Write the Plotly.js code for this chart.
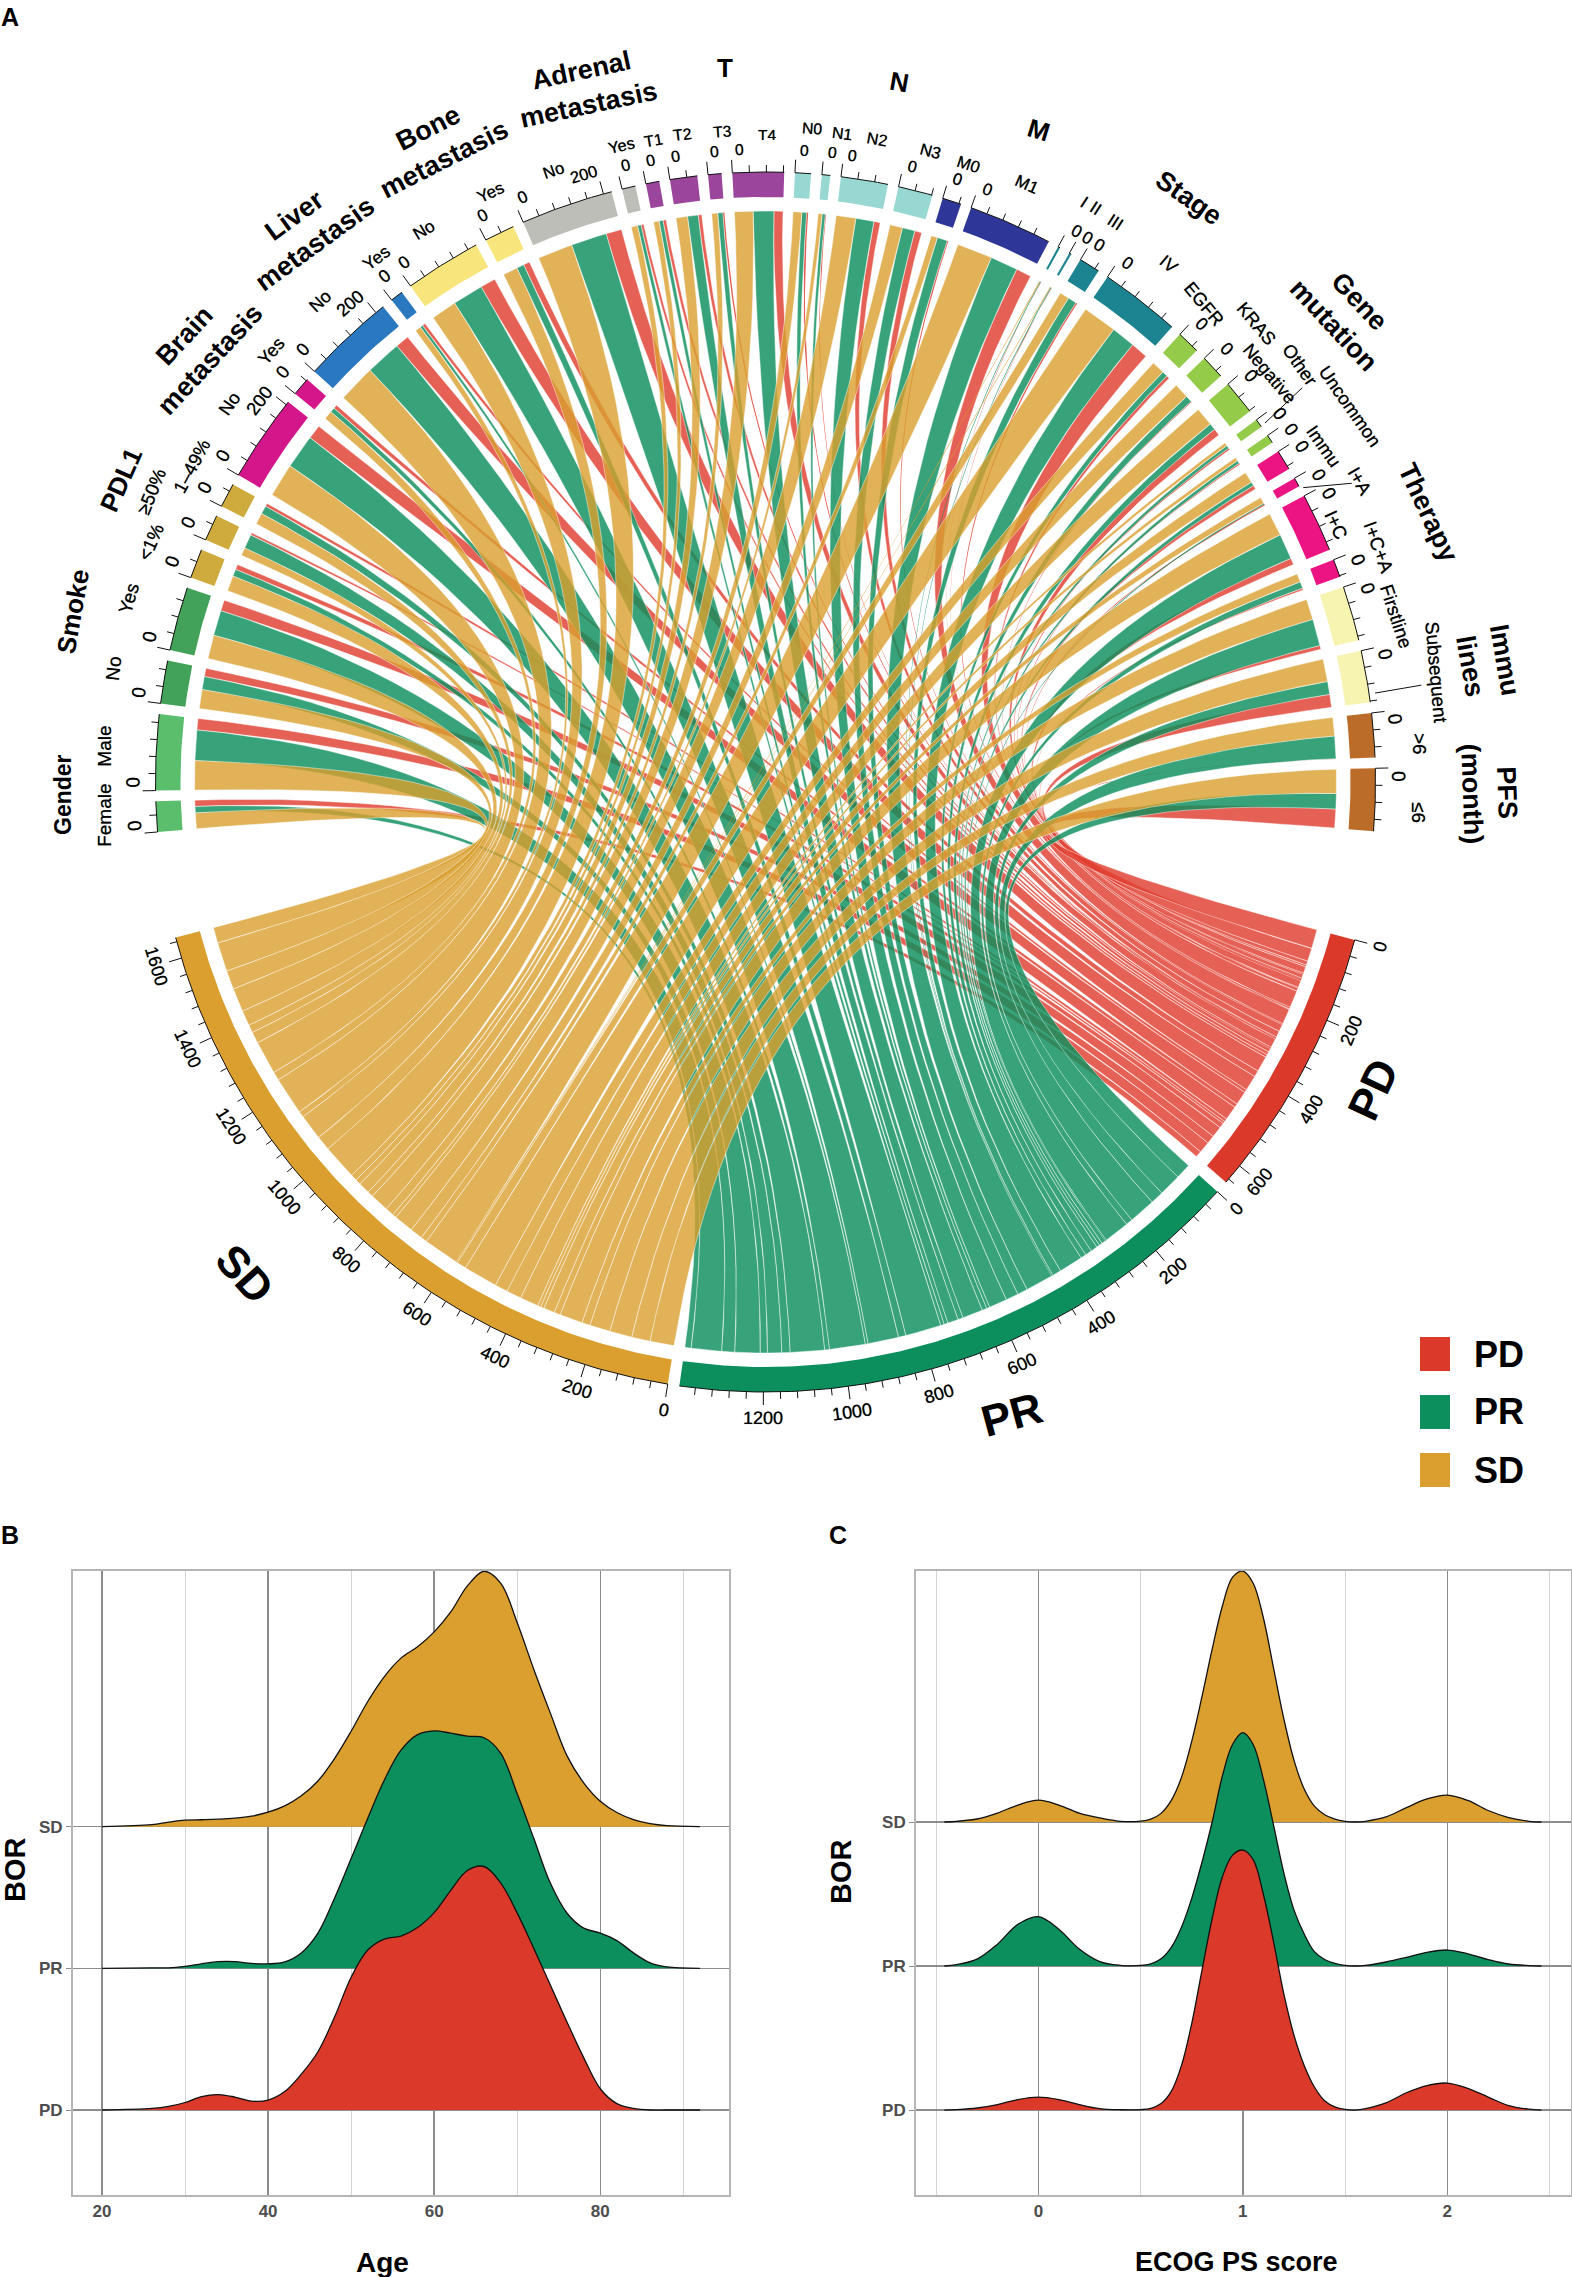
<!DOCTYPE html>
<html>
<head>
<meta charset="utf-8">
<script src="https://cdn.plot.ly/plotly-3.0.1.min.js"></script>
<style>html,body{margin:0;padding:0;background:#fff}</style>
</head>
<body>
<div id="chart" style="width:1572px;height:2277px"></div>
<script>
// sectors of the chord diagram, clockwise from Gender
var sectorNames = ['Female','Male','No','Yes','<1%','≥50%','1–49%','No','Yes','No','Yes','No','Yes','No','Yes',
    'T1','T2','T3','T4','N0','N1','N2','N3','M0','M1','I','II','III','IV',
    'EGFR','KRAS','Negative','Other','Uncommon','Immu','I+A','I+C','I+C+A','Firstline','Subsequent','>6','≤6'];
var sectorGroups = ['Gender','Gender','Smoke','Smoke','PDL1','PDL1','PDL1','Brain','Brain','Liver','Liver','Bone','Bone','Adrenal','Adrenal',
    'T','T','T','T','N','N','N','N','M','M','Stage','Stage','Stage','Stage',
    'Gene','Gene','Gene','Gene','Gene','Therapy','Therapy','Therapy','Therapy','Lines','Lines','PFS','PFS'];
var flowSD = [40,74,48,60,39,20,29,85,22,96,15,65,37,89,16,14,29,15,47,22,10,50,32,16,90,2,2,24,87,33,38,47,8,9,28,16,58,21,52,57,47,61];
var flowPR = [16,77,33,64,18,36,21,87,12,91,7,78,19,91,9,10,27,13,52,12,8,46,32,26,70,2,2,22,61,14,17,17,8,8,10,3,65,17,68,33,57,39];
var flowPD = [16,29,21,28,13,6,8,36,10,35,8,39,16,40,7,8,9,4,23,4,2,16,18,3,39,1,1,4,44,8,2,18,4,3,10,3,17,5,10,33,1,48];

var borNames = ['PD','PR','SD'];
var borFlows = [flowPD, flowPR, flowSD];

// ridgelines, heights in rows of the y axis
var ageGrid = [20,26,28,30,32,34,36,38,40,42,44,46,48,50,52,54,56,58,60,62,64,66,68,70,72,74,76,78,80,82,84,86,88,92];
var ageSD = [0,.014,.032,.046,.049,.053,.06,.074,.102,.147,.218,.323,.481,.674,.884,1.06,1.19,1.27,1.375,1.516,1.7,1.803,1.72,1.44,1.11,.8,.5,.31,.18,.1,.05,.021,.007,0];
var agePR = [0,.004,.004,.014,.032,.047,.047,.035,.032,.046,.109,.249,.495,.775,1.06,1.33,1.54,1.65,1.677,1.66,1.639,1.628,1.52,1.232,.916,.6,.389,.284,.249,.196,.109,.039,.011,0];
var agePD = [0,.011,.025,.053,.095,.109,.091,.063,.07,.13,.253,.411,.656,.937,1.13,1.207,1.228,1.288,1.393,1.551,1.691,1.719,1.604,1.39,1.14,.88,.62,.37,.15,.045,.011,0,0,0];

var ecogGrid = [-.46,-.4,-.3,-.2,-.1,0,.1,.2,.3,.4,.5,.55,.6,.65,.7,.75,.8,.85,.9,.95,1,1.05,1.1,1.15,1.2,1.25,1.3,1.35,1.4,1.45,1.5,1.55,1.6,1.7,1.8,1.9,2,2.1,2.2,2.3,2.4,2.46];
var ecogSD = [0,.005,.021,.062,.118,.152,.118,.062,.028,.005,.006,.02,.06,.15,.31,.56,.87,1.2,1.5,1.7,1.742,1.66,1.42,1.07,.72,.43,.229,.11,.05,.02,.005,0,.005,.035,.1,.16,.187,.15,.08,.031,.005,0];
var ecogPR = [0,.01,.048,.152,.29,.343,.256,.118,.031,.005,.004,.015,.05,.13,.27,.47,.72,1,1.32,1.54,1.621,1.54,1.3,.98,.65,.39,.222,.1,.045,.018,.004,0,.004,.028,.06,.095,.111,.085,.045,.014,.003,0];
var ecogPD = [0,.003,.014,.038,.073,.09,.073,.038,.01,.002,.003,.012,.045,.13,.31,.6,.97,1.33,1.62,1.77,1.805,1.74,1.5,1.17,.81,.52,.31,.16,.065,.022,.004,0,.01,.05,.12,.17,.187,.15,.09,.031,.006,0];

// styles
var W = 1572, H = 2277, CX = 765.5, CY = 782;
var R_OUT = 610, R_IN = 585, R_LINK = 571, DEG = 0.04;
var FONT = 'Liberation Sans';
var borColor = {PD:'#DB3A2B', PR:'#0C8F5D', SD:'#DA9F2E'};
var linkColor = {PD:'rgba(224,62,48,.82)', PR:'rgba(12,143,93,.82)', SD:'rgba(218,159,46,.8)'};
var groupColor = {Gender:'#5BBE6C', Smoke:'#43A25A', PDL1:'#CFAA3C', Brain:'#D4168B', Liver:'#2A78C0', Bone:'#F8E57C', Adrenal:'#BEBEB8',
    T:'#9B469C', N:'#97D9D2', M:'#2E3798', Stage:'#1C8490', Gene:'#94CB49', Therapy:'#EC1483', Lines:'#F7F3B0', PFS:'#BC6C29'};

// where the sector names sit: angle clockwise from straight down, and radius
var nameAngle = [87.1,93.1,99.9,106.1,111.3,115.3,118.8,125.2,131.1,137.2,143.4,148.2,155,160.9,167.3,170.1,172.7,176.2,180.1,184.1,186.7,189.9,194.7,198.2,203.6,
    208.8,209.9,212,217.9,222.5,227,231,232,237.3,239,243.2,245.8,249.1,255.3,260.7,266.7,272.7];
var nameRadius = [662,662,662,663,660,679,655,656,655,655,653,649,650,647,653,652,653,652,648,655,653,653,652,650,652,
    662,662,660,656,649,671,649,678,695,652,666,626,656,652,680,655,653];
var nameAngleText = [-90,-90,-84,-74,-66,-68,-62,-55,-49,-43,-37,-31,-25,-19,-13,-10,-7,-4,0,4,7,10,15,18,24,
    33,33,33,40,50,50,50,55,55,55,60,65,70,72,85,90,90];

var groupLabels = [
    {t:'Gender', x:63, y:794, a:-90, s:23},
    {t:'Smoke', x:73, y:612, a:-80, s:26},
    {t:'PDL1', x:121, y:480, a:-66, s:26},
    {t:'Brain<br>metastasis', x:197, y:347, a:-47, s:27},
    {t:'Liver<br>metastasis', x:305, y:230, a:-36, s:27},
    {t:'Bone<br>metastasis', x:436, y:143, a:-27, s:27},
    {t:'Adrenal<br>metastasis', x:585, y:87, a:-12, s:27},
    {t:'T', x:725, y:68, a:0, s:26},
    {t:'N', x:900, y:82, a:10, s:26},
    {t:'M', x:1039, y:130, a:17, s:26},
    {t:'Stage', x:1189, y:198, a:35, s:27},
    {t:'Gene<br>mutation', x:1347, y:313, a:47, s:27},
    {t:'Therapy', x:1428, y:512, a:65, s:27},
    {t:'Immu<br>lines', x:1488, y:663, a:80, s:27},
    {t:'PFS<br>(month)', x:1490, y:793, a:88, s:27}
];
var borLabels = [{t:'PD', x:1373, y:1090, a:-65}, {t:'PR', x:1011, y:1414, a:-15}, {t:'SD', x:245, y:1273, a:48}];
var leaders = [[234.3,615,233.7,666],[241.3,613,243,658],[261.7,616,261.6,663]];

function pol(deg, r){
    var a = deg * Math.PI / 180;
    return [-r * Math.sin(a), -r * Math.cos(a)];
}

function arcPts(a0, a1, r, xs, ys){
    var n = Math.max(2, Math.ceil(Math.abs(a1 - a0) / 0.5) + 1);
    for(var i = 0; i < n; i++){
        var p = pol(a0 + (a1 - a0) * i / (n - 1), r);
        xs.push(p[0]); ys.push(p[1]);
    }
}

function bezierPts(a0, a1, r, xs, ys){
    var p0 = pol(a0, r), p2 = pol(a1, r);
    for(var i = 1; i < 40; i++){
        var t = i / 40;
        xs.push((1 - t) * (1 - t) * p0[0] + t * t * p2[0]);
        ys.push((1 - t) * (1 - t) * p0[1] + t * t * p2[1]);
    }
}

var sum = function(v){ return v.reduce(function(a, b){ return a + b; }, 0); };

// layout of the ring
var sectorVal = sectorNames.map(function(n, i){ return flowSD[i] + flowPR[i] + flowPD[i]; });
var sectorStart = [], ang = 85.3;
sectorVal.forEach(function(v){ sectorStart.push(ang); ang += v * DEG + 1.01; });
var borVal = borFlows.map(sum);
var borStart = [285, 285 + borVal[0] * DEG + 1.2];
borStart.push(borStart[1] + borVal[1] * DEG + 1.1);

var traces = [], annos = [];

function chordText(txt, deg, r, rot, size){
    var p = pol(deg, r);
    annos.push({text:txt, x:p[0], y:p[1], xref:'x', yref:'y', xanchor:'center', yanchor:'middle', showarrow:false, textangle:rot,
        font:{family:FONT, size:size, color:'#000', shadow:'0 0 0.7px rgba(0,0,0,.7)'}});
}

function pageText(txt, x, y, rot, size){
    annos.push({text:txt, x:x / W, y:1 - y / H, xref:'paper', yref:'paper', xanchor:'center', yanchor:'middle', showarrow:false, textangle:rot,
        font:{family:FONT, size:size, color:'#000', weight:'bold'}});
}

// the picture is a bit taller than wide, so upright text runs longer
function ringSize(base, rot){
    return base + 3.5 * Math.abs(Math.sin(rot * Math.PI / 180));
}

// links: red first, gold last so gold sits on top
[0, 1, 2].forEach(function(b){
    var pos = borStart[b];
    var lanes = [];
    for(var s = sectorNames.length - 1; s >= 0; s--){
        lanes[s] = pos;
        pos += borFlows[b][s] * DEG;
    }
    sectorNames.forEach(function(n, s){
        // inside a sector the order is SD, PR, PD going clockwise
        var off = 0;
        if(b == 1) off = flowSD[s];
        if(b == 0) off = flowSD[s] + flowPR[s];
        var w = borFlows[b][s] * DEG;
        var a0 = sectorStart[s] + off * DEG, a1 = a0 + w;
        var b0 = lanes[s], b1 = b0 + w;
        var xs = [], ys = [];
        arcPts(a0, a1, R_LINK, xs, ys);
        bezierPts(a1, b0, R_LINK, xs, ys);
        arcPts(b0, b1, R_LINK, xs, ys);
        bezierPts(b1, a0, R_LINK, xs, ys);
        xs.push(xs[0]); ys.push(ys[0]);
        traces.push({type:'scatter', mode:'lines', x:xs, y:ys, fill:'toself', fillcolor:linkColor[borNames[b]],
            line:{color:'rgba(255,255,255,.75)', width:borFlows[b][s] < 5 ? 0 : 0.6}, hoverinfo:'skip', showlegend:false, xaxis:'x', yaxis:'y'});
    });
});

// ring sectors and ticks
var tickX = [], tickY = [];

function drawSector(start, value, color){
    var xs = [], ys = [], end = start + value * DEG;
    arcPts(start, end, R_OUT, xs, ys);
    arcPts(end, start, R_IN, xs, ys);
    xs.push(xs[0]); ys.push(ys[0]);
    traces.push({type:'scatter', mode:'lines', x:xs, y:ys, fill:'toself', fillcolor:color, line:{width:0},
        hoverinfo:'skip', showlegend:false, xaxis:'x', yaxis:'y'});
    arcPts(start, end, R_OUT, tickX, tickY);
    tickX.push(null); tickY.push(null);
    for(var v = 0; v <= value; v += 40){
        var a = start + v * DEG;
        var p0 = pol(a, R_OUT), p1 = pol(a, R_OUT + (v % 200 == 0 ? 13 : 7));
        tickX.push(p0[0], p1[0], null);
        tickY.push(p0[1], p1[1], null);
    }
}

sectorNames.forEach(function(n, s){
    drawSector(sectorStart[s], sectorVal[s], groupColor[sectorGroups[s]]);
    chordText(n, nameAngle[s], nameRadius[s], nameAngleText[s], ringSize(15.5, nameAngleText[s]));
    var rot0 = sectorStart[s] - 180;
    chordText('0', sectorStart[s] + 0.8, R_OUT + 23, rot0, ringSize(15.5, rot0));
    for(var v = 200; v <= sectorVal[s]; v += 200){
        var a = sectorStart[s] + v * DEG - 1.2;
        chordText(String(v), a, R_OUT + 24, a - 180, ringSize(15.5, a - 180));
    }
});

borNames.forEach(function(n, b){
    drawSector(borStart[b], borVal[b], borColor[n]);
    for(var v = 0; v <= borVal[b]; v += 200){
        var a = borStart[b] + v * DEG;
        chordText(String(v), a, R_OUT + 26, a > 180 ? a - 360 : a, 18);
    }
});

leaders.forEach(function(l){
    var p0 = pol(l[0], l[1]), p1 = pol(l[2], l[3]);
    tickX.push(p0[0], p1[0], null);
    tickY.push(p0[1], p1[1], null);
});

traces.push({type:'scatter', mode:'lines', x:tickX, y:tickY, connectgaps:false, line:{color:'#111', width:1},
    hoverinfo:'skip', showlegend:false, xaxis:'x', yaxis:'y'});

groupLabels.forEach(function(g){ pageText(g.t, g.x, g.y, g.a, g.s); });
borLabels.forEach(function(g){ pageText(g.t, g.x, g.y, g.a, 44); });
pageText('A', 10, 17, 0, 25);
pageText('B', 10, 1535, 0, 25);
pageText('C', 838, 1535, 0, 25);
pageText('Age', 382, 2262, 0, 28);
pageText('ECOG PS score', 1236, 2262, 0, 27);
pageText('BOR', 15, 1870, -90, 29);
pageText('BOR', 841, 1872, -90, 29);

// legend
var shapes = [];
borNames.forEach(function(n, i){
    var y = 1354 + i * 58;
    shapes.push({type:'rect', xref:'paper', yref:'paper', x0:1420 / W, x1:1450 / W, y0:1 - (y - 17) / H, y1:1 - (y + 17) / H,
        fillcolor:borColor[n], line:{width:0}});
    pageText(n, 1499, y, 0, 36);
});

// ridgelines
function addRidge(grid, heights, row, color, xa, ya){
    var base = grid.map(function(){ return row; });
    traces.push({type:'scatter', mode:'lines', x:grid, y:base, line:{width:0}, hoverinfo:'skip', showlegend:false, xaxis:xa, yaxis:ya});
    traces.push({type:'scatter', mode:'lines', x:grid, y:heights.map(function(h){ return row + h; }), fill:'tonexty', fillcolor:color,
        line:{color:'#111', width:1.3, shape:'spline', smoothing:1}, hoverinfo:'skip', showlegend:false, xaxis:xa, yaxis:ya});
}

addRidge(ageGrid, ageSD, 3, borColor.SD, 'x2', 'y2');
addRidge(ageGrid, agePR, 2, borColor.PR, 'x2', 'y2');
addRidge(ageGrid, agePD, 1, borColor.PD, 'x2', 'y2');
addRidge(ecogGrid, ecogSD, 3, borColor.SD, 'x3', 'y3');
addRidge(ecogGrid, ecogPR, 2, borColor.PR, 'x3', 'y3');
addRidge(ecogGrid, ecogPD, 1, borColor.PD, 'x3', 'y3');

function ridgeX(domain, range, tick0, dtick){
    return {domain:domain, range:range, tick0:tick0, dtick:dtick, showgrid:true, gridcolor:'#8c8c8c', gridwidth:1.4, zeroline:false,
        minor:{dtick:dtick / 2, tick0:tick0, showgrid:true, gridcolor:'#d4d4d4', gridwidth:1, ticks:''},
        showline:true, mirror:true, linecolor:'#b5b5b5', linewidth:1.6, ticks:'',
        tickfont:{family:FONT, size:17, color:'#4d4d4d', weight:'bold'}};
}

function ridgeY(anchor, domain, range){
    return {anchor:anchor, domain:domain, range:range, tickmode:'array', tickvals:[1, 2, 3], ticktext:['PD', 'PR', 'SD'], showgrid:true,
        gridcolor:'#8c8c8c', gridwidth:1.2, zeroline:false, showline:true, mirror:true, linecolor:'#b5b5b5', linewidth:1.6,
        ticks:'outside', ticklen:5, tickcolor:'#8c8c8c', tickfont:{family:FONT, size:17, color:'#4d4d4d', weight:'bold'}};
}

var rowDomain = [1 - 2195 / H, 1 - 1571 / H];

var layout = {
    width:W, height:H, margin:{l:0, r:0, t:0, b:0}, paper_bgcolor:'#fff', plot_bgcolor:'rgba(0,0,0,0)', showlegend:false,
    xaxis:{domain:[0, 1], range:[-CX, W - CX], visible:false, fixedrange:true},
    yaxis:{domain:[1 - 1510 / H, 1], range:[CY - 1510, CY], visible:false, fixedrange:true},
    xaxis2:ridgeX([72.6 / W, 729 / W], [16.46, 95.5], 20, 20),
    yaxis2:ridgeY('x2', rowDomain, [0.4, 4.805]),
    xaxis3:ridgeX([915.7 / W, 1571 / W], [-0.6, 2.605], 0, 1),
    yaxis3:ridgeY('x3', rowDomain, [0.41, 4.743]),
    annotations:annos,
    shapes:shapes
};
layout.xaxis2.anchor = 'y2';
layout.xaxis3.anchor = 'y3';

Plotly.newPlot('chart', traces, layout, {staticPlot:true, displayModeBar:false});
</script>
</body>
</html>
